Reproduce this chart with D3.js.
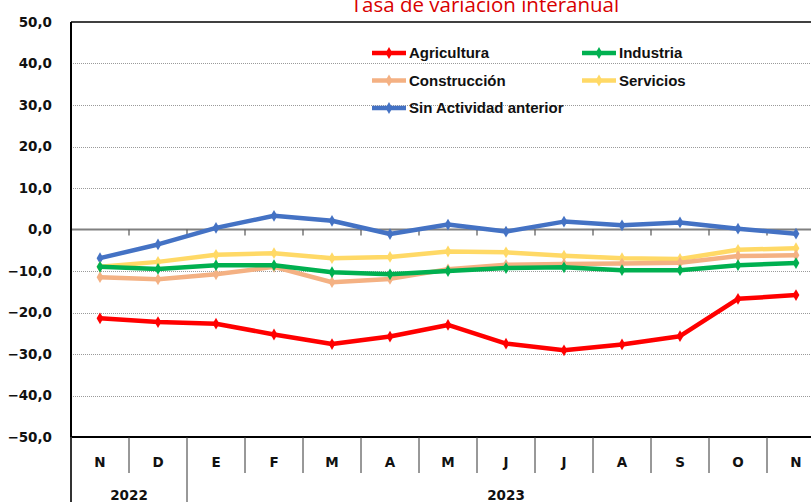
<!DOCTYPE html>
<html>
<head>
<meta charset="utf-8">
<script src="https://cdn.jsdelivr.net/npm/d3@7"></script>
<style>
  body { margin: 0; background: #fff; }
  svg { display: block; overflow: hidden; }
</style>
</head>
<body>
<svg id="chart"></svg>
<script>
// Month labels and year groups
const months = ["N", "D", "E", "F", "M", "A", "M", "J", "J", "A", "S", "O", "N"];
const years = [
  { label: "2022", from: 0, to: 2 },
  { label: "2023", from: 2, to: 13 }
];
const yTicks = [50, 40, 30, 20, 10, 0, -10, -20, -30, -40, -50];

// Series values (tasa de variación interanual)
const agricultura = [-21.4, -22.3, -22.7, -25.3, -27.6, -25.8, -23.0, -27.5, -29.1, -27.7, -25.7, -16.7, -15.8];
const industria = [-9.0, -9.5, -8.6, -8.6, -10.3, -10.8, -10.0, -9.3, -9.1, -9.8, -9.8, -8.6, -8.1];
const construccion = [-11.5, -12.0, -10.8, -9.0, -12.7, -11.9, -9.6, -8.5, -8.3, -8.2, -8.0, -6.4, -6.2];
const servicios = [-9.0, -7.8, -6.1, -5.7, -6.9, -6.6, -5.3, -5.5, -6.3, -6.9, -7.1, -4.9, -4.5];
const sinActividad = [-6.9, -3.6, 0.4, 3.3, 2.1, -1.1, 1.2, -0.5, 1.9, 1.0, 1.7, 0.2, -1.0];

const series = [
  { name: "Sin Actividad anterior", values: sinActividad, color: "#4472C4" },
  { name: "Servicios", values: servicios, color: "#FFD966" },
  { name: "Construcción", values: construccion, color: "#F4B183" },
  { name: "Industria", values: industria, color: "#00B050" },
  { name: "Agricultura", values: agricultura, color: "#FF0000" }
];

const legendItems = [
  { name: "Agricultura", color: "#FF0000", col: 0, row: 0 },
  { name: "Industria", color: "#00B050", col: 1, row: 0 },
  { name: "Construcción", color: "#F4B183", col: 0, row: 1 },
  { name: "Servicios", color: "#FFD966", col: 1, row: 1 },
  { name: "Sin Actividad anterior", color: "#4472C4", col: 0, row: 2 }
];

const width = 811;
const height = 502;
const margin = { top: 22, left: 71, bottom: 437 };
const bandW = 58;

const svg = d3.select("#chart")
  .attr("width", width)
  .attr("height", height);

// Scales
const x = d3.scaleBand()
  .domain(d3.range(months.length))
  .range([margin.left, margin.left + bandW * months.length])
  .paddingInner(0).paddingOuter(0);

const y = d3.scaleLinear()
  .domain([-50, 50])
  .range([margin.bottom, margin.top]);

const xc = i => x(i) + x.bandwidth() / 2;

// Title (partly above the picture, as in the original)
svg.append("text")
  .attr("x", 485)
  .attr("y", 12)
  .attr("text-anchor", "middle")
  .attr("fill", "#D80000")
  .style("font-family", "'Open Sans', 'Liberation Sans', sans-serif")
  .style("font-size", "20.5px")
  .text("Tasa de variación interanual");

// Gridlines (dotted)
svg.append("g")
  .selectAll("line")
  .data(yTicks.filter(d => d !== 0 && d !== 50 && d !== -50))
  .join("line")
  .attr("x1", margin.left)
  .attr("x2", width)
  .attr("y1", d => Math.round(y(d)) + 0.5)
  .attr("y2", d => Math.round(y(d)) + 0.5)
  .attr("stroke", "#9a9a9a")
  .attr("stroke-width", 1)
  .attr("stroke-dasharray", "1,1");

// Zero line with small ticks at band edges
svg.append("line")
  .attr("x1", margin.left).attr("x2", width)
  .attr("y1", y(0)).attr("y2", y(0))
  .attr("stroke", "#808080")
  .attr("stroke-width", 2);

svg.append("g")
  .selectAll("line")
  .data(d3.range(1, months.length))
  .join("line")
  .attr("x1", d => x(d)).attr("x2", d => x(d))
  .attr("y1", y(0)).attr("y2", y(0) + 6)
  .attr("stroke", "#555")
  .attr("stroke-width", 1.2);

// Frame: top border, left axis, bottom axis
svg.append("line")
  .attr("x1", margin.left).attr("x2", width)
  .attr("y1", y(50)).attr("y2", y(50))
  .attr("stroke", "#000").attr("stroke-width", 1.5);

svg.append("line")
  .attr("x1", margin.left).attr("x2", width)
  .attr("y1", y(-50)).attr("y2", y(-50))
  .attr("stroke", "#000").attr("stroke-width", 2);

svg.append("line")
  .attr("x1", margin.left).attr("x2", margin.left)
  .attr("y1", y(50)).attr("y2", y(-50))
  .attr("stroke", "#000").attr("stroke-width", 2);

// Y axis labels
svg.append("g")
  .selectAll("text")
  .data(yTicks)
  .join("text")
  .attr("x", 52)
  .attr("y", d => y(d))
  .attr("dy", "0.35em")
  .attr("text-anchor", "end")
  .style("font-family", "'DejaVu Sans', sans-serif")
  .style("font-weight", "bold")
  .style("font-size", "13.5px")
  .attr("fill", "#111")
  .text(d => d3.format(".1f")(d).replace(".", ","));

// Category table below the plot
const tableG = svg.append("g");

tableG.selectAll(".sep")
  .data(d3.range(0, months.length + 1))
  .join("line")
  .attr("class", "sep")
  .attr("x1", d => margin.left + d * bandW)
  .attr("x2", d => margin.left + d * bandW)
  .attr("y1", y(-50))
  .attr("y2", d => years.some(yr => yr.from === d) ? height : 473)
  .attr("stroke", "#333")
  .attr("stroke-width", d => d === 0 ? 2 : 1);

tableG.selectAll(".month")
  .data(months)
  .join("text")
  .attr("class", "month")
  .attr("x", (d, i) => xc(i))
  .attr("y", 462)
  .attr("dy", "0.35em")
  .attr("text-anchor", "middle")
  .style("font-family", "'DejaVu Sans', sans-serif")
  .style("font-weight", "bold")
  .style("font-size", "13.5px")
  .attr("fill", "#111")
  .text(d => d);

tableG.selectAll(".year")
  .data(years)
  .join("text")
  .attr("class", "year")
  .attr("x", d => (x(d.from) + margin.left + d.to * bandW) / 2)
  .attr("y", 495)
  .attr("dy", "0.35em")
  .attr("text-anchor", "middle")
  .style("font-family", "'DejaVu Sans', sans-serif")
  .style("font-weight", "bold")
  .style("font-size", "13.5px")
  .attr("fill", "#111")
  .text(d => d.label);

// Lines
const line = d3.line()
  .x((d, i) => xc(i))
  .y(d => y(d));

const diamond = d3.symbol().type(d3.symbolDiamond).size(40);

series.forEach(s => {
  svg.append("path")
    .datum(s.values)
    .attr("fill", "none")
    .attr("stroke", s.color)
    .attr("stroke-width", 4.5)
    .attr("stroke-linejoin", "round")
    .attr("d", line);

  svg.append("g")
    .selectAll("path")
    .data(s.values)
    .join("path")
    .attr("transform", (d, i) => `translate(${xc(i)},${y(d)})`)
    .attr("d", diamond)
    .attr("fill", s.color);
});

// Legend
const legend = svg.append("g");
const lg = legend.selectAll("g")
  .data(legendItems)
  .join("g")
  .attr("transform", d => `translate(${372 + d.col * 210},${53 + d.row * 27.5})`);

lg.append("line")
  .attr("x1", 0).attr("x2", 34)
  .attr("stroke", d => d.color)
  .attr("stroke-width", 4.5);

lg.append("path")
  .attr("transform", "translate(17,0)")
  .attr("d", diamond)
  .attr("fill", d => d.color);

lg.append("text")
  .attr("x", 37)
  .attr("dy", "0.35em")
  .style("font-family", "'Liberation Sans', Arial, sans-serif")
  .style("font-weight", "bold")
  .style("font-size", "15px")
  .attr("fill", "#111")
  .text(d => d.name);
</script>
</body>
</html>
